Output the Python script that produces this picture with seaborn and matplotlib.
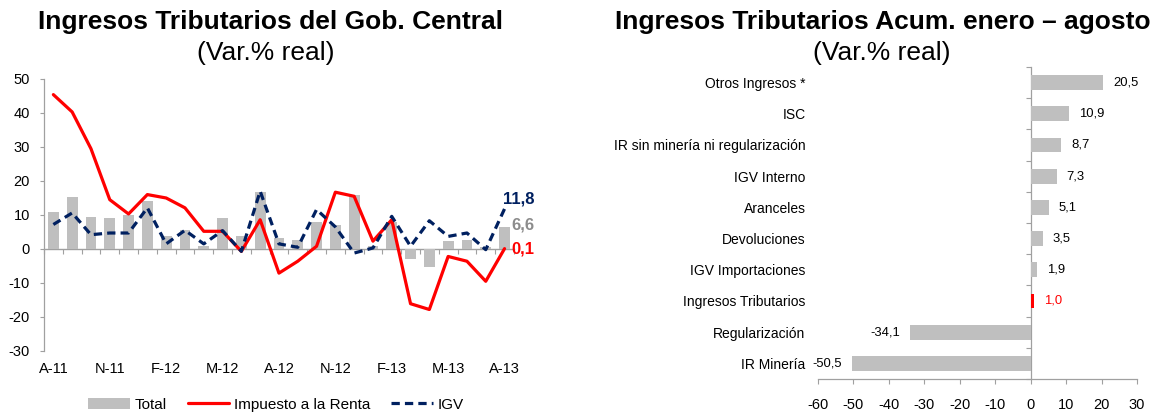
import numpy as np
import pandas as pd
import matplotlib
matplotlib.use("Agg")
import matplotlib.pyplot as plt
import seaborn as sns
from matplotlib.patches import Patch
from matplotlib.lines import Line2D

# ---------------- data ----------------
months = ["A-11", "S-11", "O-11", "N-11", "D-11", "E-12", "F-12", "M-12", "A-12",
          "M-12", "J-12", "J-12", "A-12", "S-12", "O-12", "N-12", "D-12", "E-13",
          "F-13", "M-13", "A-13", "M-13", "J-13", "J-13", "A-13"]
total = [10.8, 15.3, 9.4, 9.1, 10.1, 14.2, 3.9, 5.5, 1.0, 9.1, 3.9, 16.7, 3.2,
         2.5, 7.8, 7.2, 16.0, 0.8, 8.0, -2.9, -5.3, 2.3, 2.5, 0.5, 6.6]
renta = [45.4, 40.3, 29.5, 14.5, 10.3, 16.0, 15.0, 12.1, 5.2, 5.2, -0.7, 8.6, -7.1,
         -3.6, 0.8, 16.7, 15.5, 2.3, 8.6, -16.1, -17.8, -2.2, -3.6, -9.5, 0.1]
igv = [7.2, 10.6, 4.2, 4.7, 4.7, 12.1, 1.5, 5.5, 1.5, 5.4, -0.7, 17.0, 1.5,
       0.5, 11.6, 6.5, -1.2, 0.3, 9.6, 0.8, 8.3, 3.7, 4.7, -0.2, 11.8]
series_names = ["Total", "Impuesto a la Renta", "IGV"]

categories = ["Otros Ingresos *", "ISC", "IR sin minería ni regularización",
              "IGV Interno", "Aranceles", "Devoluciones", "IGV Importaciones",
              "Ingresos Tributarios", "Regularización", "IR Minería"]
values = [20.5, 10.9, 8.7, 7.3, 5.1, 3.5, 1.9, 1.0, -34.1, -50.5]
highlight = "Ingresos Tributarios"

title_left = "Ingresos Tributarios del Gob. Central"
title_right = "Ingresos Tributarios Acum. enero – agosto"
subtitle = "(Var.% real)"

# ---------------- style ----------------
GREY = "#BFBFBF"
RED = "#FF0000"
NAVY = "#002060"
AXIS = "#A0A0A0"
DASH = (0, (2.6, 1.6))

sns.set_style("white")
plt.rcParams["font.family"] = ["Liberation Sans", "DejaVu Sans"]
plt.rcParams["text.color"] = "black"
plt.rcParams["axes.labelcolor"] = "black"
plt.rcParams["xtick.color"] = "black"
plt.rcParams["ytick.color"] = "black"
plt.rcParams["axes.unicode_minus"] = False


def fmt(v):
    return f"{v:.1f}".replace(".", ",")


fig = plt.figure(figsize=(11.57, 4.12), dpi=100)

# ---------------- left chart ----------------
ax1 = fig.add_axes([0.0380, 0.1481, 0.4062, 0.6602])
df1 = pd.DataFrame({"pos": np.arange(len(months)), "total": total,
                    "renta": renta, "igv": igv})
sns.barplot(data=df1, x="pos", y="total", native_scale=True, color=GREY,
            saturation=1, width=0.57, linewidth=0, errorbar=None, ax=ax1)
sns.lineplot(data=df1, x="pos", y="renta", color=RED, lw=2.3, ax=ax1)
sns.lineplot(data=df1, x="pos", y="igv", color=NAVY, lw=2.3, linestyle=DASH, ax=ax1)

ax1.set_xlim(-0.5, len(months) - 0.5)
ax1.set_ylim(-30, 50)
ax1.set_yticks(np.arange(-30, 51, 10))
ax1.set_xticks(df1["pos"][::3])
ax1.set_xticklabels(months[::3])
ax1.set_xlabel("")
ax1.set_ylabel("")
ax1.tick_params(axis="x", length=0, pad=8, labelsize=10.5, labelcolor="black")
ax1.tick_params(axis="y", length=3, width=0.8, color=AXIS, pad=7, labelsize=10.5,
                labelcolor="black", left=True)
for s in ["top", "right", "bottom"]:
    ax1.spines[s].set_visible(False)
ax1.spines["left"].set_color(AXIS)
ax1.spines["left"].set_linewidth(0.9)

sec1 = ax1.secondary_xaxis(30 / 80)
sec1.set_xticks(np.arange(-0.5, len(months), 1))
sec1.tick_params(axis="x", length=3.5, width=0.8, color=AXIS, labelbottom=False,
                 direction="out", bottom=True)
sec1.spines["bottom"].set_color(AXIS)
sec1.spines["bottom"].set_linewidth(1.0)

last = df1["pos"].iloc[-1]
ax1.annotate(fmt(igv[-1]), xy=(last, igv[-1]), xytext=(30, 10),
             textcoords="offset pixels", ha="right", va="center",
             color=NAVY, fontweight="bold", fontsize=12)
ax1.annotate(fmt(total[-1]), xy=(last, total[-1]), xytext=(30, 2),
             textcoords="offset pixels", ha="right", va="center",
             color="#8C8C8C", fontweight="bold", fontsize=12)
ax1.annotate(fmt(renta[-1]), xy=(last, renta[-1]), xytext=(30, 0),
             textcoords="offset pixels", ha="right", va="center",
             color=RED, fontweight="bold", fontsize=12)

handles = [Patch(facecolor=GREY, edgecolor="none"),
           Line2D([], [], color=RED, lw=2.3),
           Line2D([], [], color=NAVY, lw=2.3, linestyle=DASH)]
fig.legend(handles, series_names, loc="center", bbox_to_anchor=(0.2385, 0.018),
           ncol=3, frameon=False, fontsize=11, handlelength=2.7,
           handletextpad=0.3, columnspacing=1.4)

# ---------------- right chart ----------------
ax2 = fig.add_axes([0.7070, 0.0801, 0.2757, 0.7573])
df2 = pd.DataFrame({"cat": categories, "val": values})
palette = {c: (RED if c == highlight else GREY) for c in categories}
sns.barplot(data=df2, x="val", y="cat", hue="cat", palette=palette, legend=False,
            orient="h", width=0.48, saturation=1, linewidth=0, errorbar=None, ax=ax2)
ax2.set_xlim(-60, 30)
ax2.set_ylim(len(categories) - 0.5, -0.5)
ax2.set_xticks(np.arange(-60, 31, 10))
ax2.set_xlabel("")
ax2.set_ylabel("")
ax2.tick_params(axis="y", length=0, pad=9, labelsize=10, labelcolor="black")
ax2.tick_params(axis="x", length=3.5, width=0.8, color=AXIS, pad=10, labelsize=10.5,
                labelcolor="black", bottom=True, direction="out")
for s in ["top", "right", "left"]:
    ax2.spines[s].set_visible(False)
ax2.spines["bottom"].set_color(AXIS)
ax2.spines["bottom"].set_linewidth(0.9)

sec2 = ax2.secondary_yaxis(60 / 90)
sec2.set_alignment("left")
sec2.set_yticks(np.arange(-0.5, len(categories), 1))
sec2.tick_params(axis="y", length=3.5, width=0.8, color=AXIS, labelleft=False,
                 labelright=False, direction="out")
sec2.spines["left"].set_color(AXIS)
sec2.spines["left"].set_linewidth(0.9)

for cont, v, c in zip(ax2.containers, values, categories):
    ax2.bar_label(cont, labels=[fmt(v)], padding=7, fontsize=9.4,
                  color=RED if c == highlight else "black")

# ---------------- titles ----------------
fig.text(0.234, 1 - 22 / 412, title_left, ha="center", va="center",
         fontsize=19, fontweight="bold")
fig.text(0.230, 1 - 53 / 412, subtitle, ha="center", va="center", fontsize=19)
fig.text(0.763, 1 - 22 / 412, title_right, ha="center", va="center",
         fontsize=19, fontweight="bold")
fig.text(0.762, 1 - 53 / 412, subtitle, ha="center", va="center", fontsize=19)

fig.savefig("out.png", dpi=100)
